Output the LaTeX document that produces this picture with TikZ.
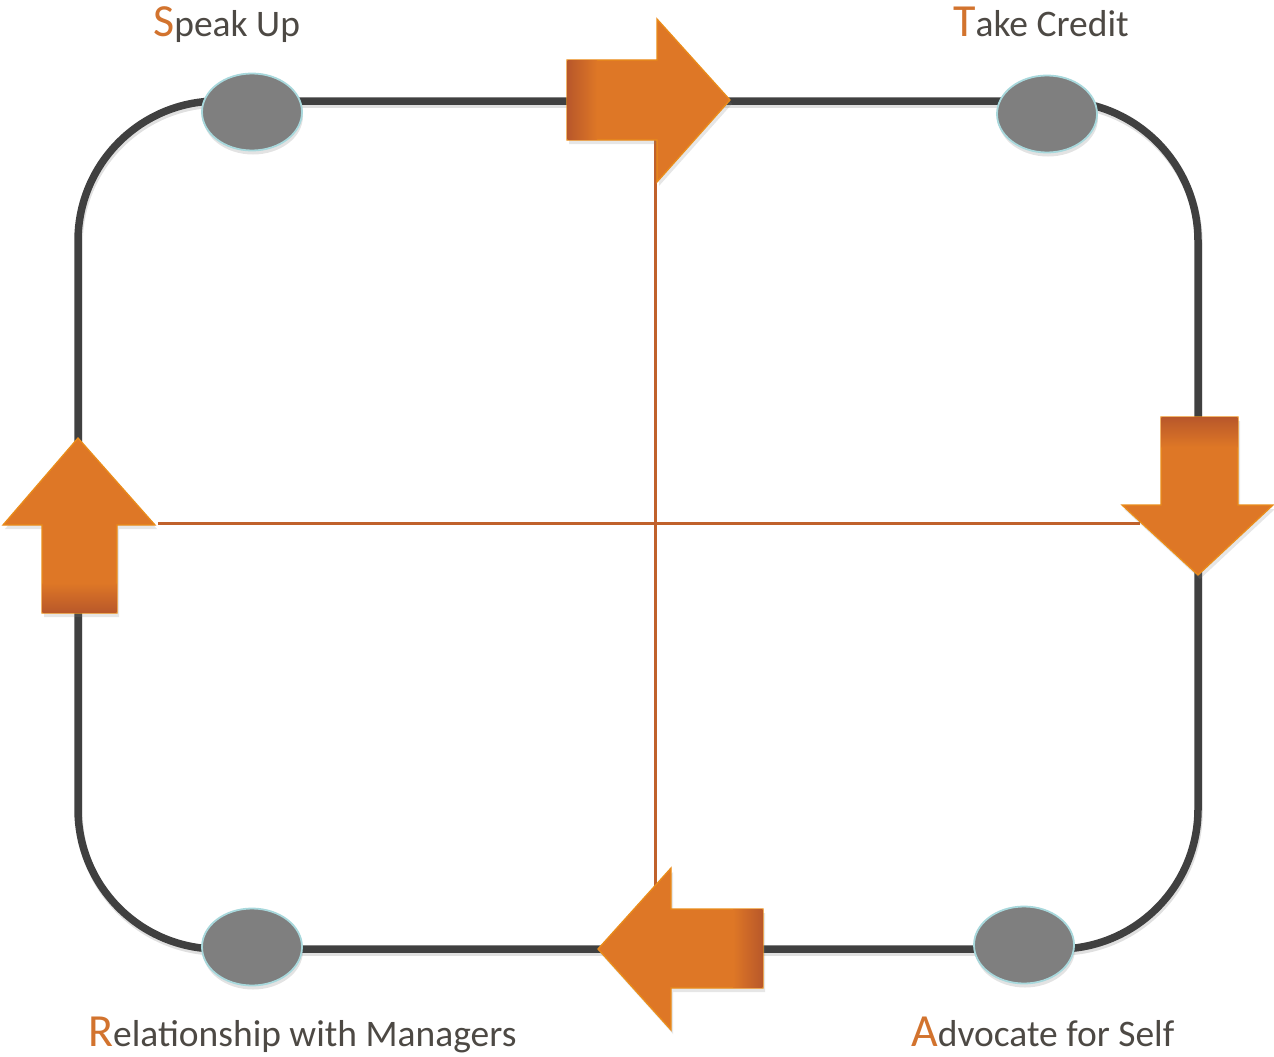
\documentclass[tikz,border=0pt]{standalone}
\usepackage{fontspec}
\setmainfont{Carlito}
\usetikzlibrary{shapes.geometric,shadows}
\definecolor{ringc}{HTML}{404040}
\definecolor{crossc}{HTML}{C0612B}
\definecolor{arrfill}{HTML}{DE7726}
\definecolor{arrdark}{HTML}{B9582A}
\definecolor{arredge}{HTML}{EA8C1A}
\definecolor{dotfill}{HTML}{7F7F7F}
\definecolor{dotedge}{HTML}{A8D8DC}
\definecolor{txtc}{HTML}{4D4944}
\definecolor{initc}{HTML}{D2732E}
\newcommand\firstletter[1]{{\color{initc}\fontsize{46}{50}\selectfont #1}}
\begin{document}
\begin{tikzpicture}[x=1pt,y=-1pt,
 ring/.style={line width=7.5pt, draw=ringc},
 ringshadow/.style={line width=7.5pt, draw=black, opacity=0.12},
 crossline/.style={line width=3pt, draw=crossc},
 dot/.style={ellipse, minimum width=100pt, minimum height=77pt, inner sep=0pt, fill=dotfill, draw=dotedge, line width=1.8pt,
   drop shadow={opacity=0.22, shadow xshift=1pt, shadow yshift=-4pt}},
 bigarrow/.style={fill=arrfill, draw=arredge, line width=1.3pt, line join=miter,
   drop shadow={opacity=0.2, shadow xshift=2pt, shadow yshift=-4pt}},
 lab/.style={anchor=base west, inner sep=0pt, text=txtc, font=\fontsize{37.5}{44}\selectfont}]
\useasboundingbox (0,0) rectangle (1274,1057);
% ring
\draw[ringshadow, rounded corners=140pt] (79,104) rectangle (1199,952);
\draw[ring, rounded corners=140pt] (78,101) rectangle (1198,949);
% cross lines
\coordinate (hL) at (158,523);
\coordinate (hR) at (1140,523);
\coordinate (vT) at (655,140);
\coordinate (vB) at (655,890);
\draw[crossline] (hL) -- (hR);
\draw[crossline] (vT) -- (vB);
% dots
\node[dot] (d1) at (252,112) {};
\node[dot] (d2) at (1047,114) {};
\node[dot] (d3) at (1024,945) {};
\node[dot] (d4) at (252,947) {};
% arrows
\path[bigarrow] (567,60) -- (657,60) -- (657,19) -- (730,100) -- (657,182) -- (657,140) -- (567,140) -- cycle;
\shade[left color=arrdark, right color=arrfill] (567.7,60.7) rectangle (597,139.3);
\path[bigarrow] (1161,417) -- (1238,417) -- (1238,505) -- (1273,505) -- (1198,575) -- (1122,505) -- (1161,505) -- cycle;
\shade[top color=arrdark, bottom color=arrfill] (1161.7,417.7) rectangle (1237.3,447);
\path[bigarrow] (42,613) -- (42,525) -- (3,525) -- (78,438) -- (155,525) -- (117,525) -- (117,613) -- cycle;
\shade[bottom color=arrdark, top color=arrfill] (42.7,583) rectangle (116.3,612.3);
\path[bigarrow] (763,909) -- (671,909) -- (671,868) -- (598,949) -- (671,1030) -- (671,988) -- (763,988) -- cycle;
\shade[right color=arrdark, left color=arrfill] (733,909.7) rectangle (762.3,987.3);
% labels
\node[lab] (l1) at (153,37) {\firstletter{S}peak Up};
\node[lab] (l2) at (953,37) {\firstletter{T}ake Credit};
\node[lab] (l3) at (88,1046) {\firstletter{R}elationship with Managers};
\node[lab] (l4) at (911,1046) {\firstletter{A}dvocate for Self};
\end{tikzpicture}
\end{document}
